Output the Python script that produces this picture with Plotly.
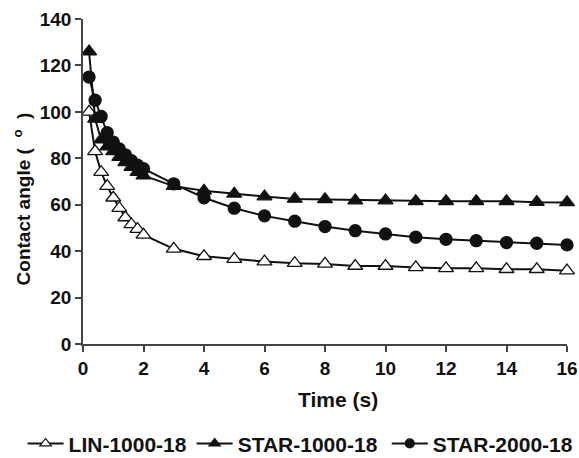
import plotly.graph_objects as go

# Sampling times (s)
time_s = [0.2, 0.4, 0.6, 0.8, 1.0, 1.2, 1.4, 1.6, 1.8, 2.0,
          3, 4, 5, 6, 7, 8, 9, 10, 11, 12, 13, 14, 15, 16]

# Contact angle (degrees) for each sample
lin_1000_18 = [100, 83, 74, 68, 63, 58.5, 54.5, 51.5, 49.5, 47,
               41, 37.8, 36.6, 35.5, 34.8, 34.5, 33.6, 33.6, 33, 32.6,
               32.6, 32.2, 32.2, 31.6]
star_1000_18 = [126, 97, 88, 85, 83, 80.5, 78.3, 76.2, 74, 72.5,
                68, 66, 64.7, 63.5, 62.5, 62.3, 61.8, 61.8, 61.5, 61.5,
                61.5, 61.5, 61.1, 61]
star_2000_18 = [115, 105, 98, 91, 87, 84, 81.5, 79, 77, 75.5,
                69, 63, 58.5, 55.2, 52.9, 50.6, 48.8, 47.4, 46, 45.1,
                44.5, 43.7, 43.4, 42.7]

series_names = ["LIN-1000-18", "STAR-1000-18", "STAR-2000-18"]

x_ticks = [0, 2, 4, 6, 8, 10, 12, 14, 16]
y_ticks = [0, 20, 40, 60, 80, 100, 120, 140]

x_title = "Time (s)"
y_title = "Contact angle (&nbsp; <sup>o</sup>&nbsp; )"

FONT = "Liberation Sans, Arial, sans-serif"
INK = "#111111"
AXIS = "#444444"

styles = [
    dict(symbol="triangle-up", fill="white", size=13, legend_size=10),
    dict(symbol="triangle-up", fill=INK, size=13, legend_size=10),
    dict(symbol="circle", fill=INK, size=12, legend_size=9),
]

# one legend box per series, laid out in a row along the bottom
legend_ids = ["legend", "legend2", "legend3"]
legend_left = [0.039, 0.331, 0.668]

fig = go.Figure()

# data curves (legend keys are drawn separately with smaller markers)
for name, values, st in zip(series_names,
                            [lin_1000_18, star_1000_18, star_2000_18],
                            styles):
    fig.add_trace(go.Scatter(
        x=time_s, y=values, name=name, mode="lines+markers",
        line=dict(color=INK, width=2),
        marker=dict(symbol=st["symbol"], size=st["size"], color=st["fill"],
                    line=dict(color=INK, width=1.3)),
        cliponaxis=False, showlegend=False,
    ))

for name, st, lid in zip(series_names, styles, legend_ids):
    fig.add_trace(go.Scatter(
        x=[None], y=[None], name=name, mode="lines+markers",
        line=dict(color=INK, width=2),
        marker=dict(symbol=st["symbol"], size=st["legend_size"],
                    color=st["fill"], line=dict(color=INK, width=1.2)),
        showlegend=True, legend=lid,
    ))

legend_style = dict(
    orientation="h", xref="container", yref="container",
    xanchor="left", y=0.031, yanchor="middle",
    font=dict(family=FONT, size=21, color=INK, weight="bold"),
    itemwidth=36, borderwidth=0, bgcolor="rgba(0,0,0,0)",
)

fig.update_layout(
    width=579, height=458,
    margin=dict(l=83, r=12, t=19, b=114, autoexpand=False),
    paper_bgcolor="white", plot_bgcolor="white",
    font=dict(family=FONT, size=19, color=INK, weight="bold"),
    legend=dict(x=legend_left[0], **legend_style),
    legend2=dict(x=legend_left[1], **legend_style),
    legend3=dict(x=legend_left[2], **legend_style),
)

# axis titles
fig.add_annotation(
    text=x_title, xref="paper", yref="paper", x=0.526, y=-0.17,
    xanchor="center", yanchor="middle", showarrow=False,
    font=dict(family=FONT, size=21, color=INK, weight="bold"),
)
fig.add_annotation(
    text=y_title, xref="paper", yref="paper", x=-0.126, y=0.445,
    xanchor="center", yanchor="middle", textangle=-90, showarrow=False,
    font=dict(family=FONT, size=19, color=INK, weight="bold"),
)

fig.update_xaxes(
    range=[0, 16], tickvals=x_ticks, ticktext=[str(v) for v in x_ticks],
    showgrid=False, zeroline=False,
    showline=True, linecolor=AXIS, linewidth=1.5,
    ticks="outside", ticklen=6, tickwidth=1.5, tickcolor=AXIS,
    tickfont=dict(family=FONT, size=19, color=INK, weight="bold"),
)
fig.update_yaxes(
    range=[0, 140], tickvals=y_ticks, ticktext=[str(v) for v in y_ticks],
    showgrid=False, zeroline=False,
    showline=True, linecolor=AXIS, linewidth=1.5,
    ticks="outside", ticklen=6, tickwidth=1.5, tickcolor=AXIS,
    tickfont=dict(family=FONT, size=19, color=INK, weight="bold"),
)

fig.write_html("out.html")
